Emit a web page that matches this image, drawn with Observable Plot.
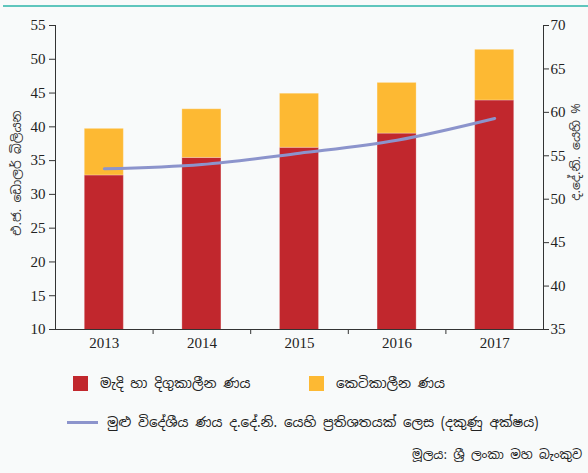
<!DOCTYPE html>
<html>
<head>
<meta charset="utf-8">
<script src="https://cdn.jsdelivr.net/npm/d3@7"></script>
<script src="https://cdn.jsdelivr.net/npm/@observablehq/plot@0.6"></script>
<style>
  html, body { margin: 0; padding: 0; background: #f8fafa; width: 588px; height: 473px; overflow: hidden; }
  #wrap { position: relative; width: 588px; height: 473px; }
  #topline { position: absolute; left: 3px; top: 5px; width: 585px; height: 2px; background: #5fc6bd; }
  #chart { position: absolute; left: 0; top: 0; }
  .sin { font-family: "Noto Sans Sinhala", "Noto Sans", "Iskoola Pota", sans-serif; color: #222; font-size: 13.5px; }
  .leg { position: absolute; display: flex; align-items: center; white-space: nowrap; }
  .sw { width: 15px; height: 15px; display: inline-block; margin-right: 12px; }
  .ln { width: 31px; height: 3px; display: inline-block; margin-right: 9px; background: #8c94cc; }
</style>
</head>
<body>
<div id="wrap">
  <div id="chart"></div>
  <div id="topline"></div>
  <div class="leg sin" style="left:73px; top:374px;"><span class="sw" style="background:#c1272d"></span><span id="l1"></span></div>
  <div class="leg sin" style="left:309px; top:374px;"><span class="sw" style="background:#fdb933"></span><span id="l2"></span></div>
  <div class="leg sin" style="left:67px; top:413px;"><span class="ln"></span><span id="l3"></span></div>
  <div class="leg sin" style="left:412px; top:446px; font-size:12.5px;"><span id="src"></span></div>
</div>
<script>
// ---- data ----
const years = [2013, 2014, 2015, 2016, 2017];
const longTerm = [32.8, 35.4, 36.9, 39.0, 43.9];     // medium & long-term debt (US$ bn)
const shortTerm = [6.9, 7.2, 8.0, 7.5, 7.5];         // short-term debt (US$ bn)
const debtPctGDP = [53.5, 54.0, 55.3, 56.8, 59.3];   // total foreign debt as % of GDP (right axis)
const leftTicks = [10, 15, 20, 25, 30, 35, 40, 45, 50, 55];
const rightTicks = [35, 40, 45, 50, 55, 60, 65, 70];
const seriesNames = ["මැදි හා දිගුකාලීන ණය", "කෙටිකාලීන ණය"];
const lineName = "මුළු විදේශීය ණය ද.දේ.නි. යෙහි ප්‍රතිශතයක් ලෙස (දකුණු අක්ෂය)";
const leftLabel = "එ.ජ. ඩොලර් බිලියන";
const rightLabel = "ද.දේ.නි. යෙහි %";
const sourceText = "මූලය: ශ්‍රී ලංකා මහ බැංකුව";

// ---- mapping of right axis onto left scale ----
const L0 = 10, L1 = 55, R0 = 35, R1 = 70;
const toLeft = v => L0 + (v - R0) * (L1 - L0) / (R1 - R0);
const fromLeft = v => R0 + (v - L0) * (R1 - R0) / (L1 - L0);

const bars = [];
years.forEach((y, i) => {
  bars.push({year: y, series: seriesNames[0], value: longTerm[i]});
  bars.push({year: y, series: seriesNames[1], value: shortTerm[i]});
});
const lineData = years.map((y, i) => ({year: y, value: toLeft(debtPctGDP[i])}));
const halfBar = 0.2;

const serif = "'Liberation Serif', 'Times New Roman', serif";
const chart = Plot.plot({
  width: 588,
  height: 362,
  marginLeft: 55,
  marginRight: 45,
  marginTop: 25,
  marginBottom: 33,
  style: {background: "transparent", fontFamily: serif, fontSize: "15px", color: "#222"},
  x: {domain: [years[0] - 0.5, years[years.length - 1] + 0.5], label: null},
  y: {domain: [L0, L1], label: null},
  color: {domain: seriesNames, range: ["#c1272d", "#fdb933"]},
  marks: [
    Plot.rectY(bars, Plot.stackY({
      x1: d => d.year - halfBar, x2: d => d.year + halfBar,
      y: "value", fill: "series", order: seriesNames,
      stroke: "white", strokeOpacity: 0.25, strokeWidth: 1,
      clip: true
    })),
    Plot.line(lineData, {x: "year", y: "value", stroke: "#8c94cc", strokeWidth: 3, curve: "monotone-x"}),
    // bottom axis: labels at years, ticks between years
    Plot.axisX(years, {anchor: "bottom", tickSize: 0, tickPadding: 8, label: null, tickFormat: d => String(d), fontSize: 15}),
    Plot.axisX(years.slice(1).map(y => y - 0.5), {anchor: "bottom", tickSize: 5, label: null, tickFormat: () => "", stroke: "#333"}),
    // left axis
    Plot.axisY(leftTicks, {anchor: "left", tickSize: 6, tickPadding: 4, label: null, stroke: "#333", fontSize: 15}),
    // right axis
    Plot.axisY(rightTicks.map(toLeft), {anchor: "right", tickSize: 5, tickPadding: 2, label: null, stroke: "#333", fontSize: 15,
      tickFormat: d => String(Math.round(fromLeft(d)))}),
    Plot.frame({anchor: "left", stroke: "#333"}),
    Plot.frame({anchor: "right", stroke: "#333"}),
    Plot.frame({anchor: "bottom", stroke: "#333"})
  ]
});
document.getElementById("chart").appendChild(chart);

// rotated axis titles
const svg = d3.select(chart);
svg.append("text")
  .attr("transform", "translate(21,173) rotate(-90)")
  .attr("text-anchor", "middle")
  .attr("font-family", "'Noto Sans Sinhala', 'Noto Sans', sans-serif")
  .attr("font-size", 12.5).attr("fill", "#333")
  .text(leftLabel);
svg.append("text")
  .attr("transform", "translate(580,152) rotate(-90)")
  .attr("text-anchor", "middle")
  .attr("font-family", "'Noto Sans Sinhala', 'Noto Sans', sans-serif")
  .attr("font-size", 12.5).attr("fill", "#333")
  .text(rightLabel);

document.getElementById("l1").textContent = seriesNames[0];
document.getElementById("l2").textContent = seriesNames[1];
document.getElementById("l3").textContent = lineName;
document.getElementById("src").textContent = sourceText;
</script>
</body>
</html>
